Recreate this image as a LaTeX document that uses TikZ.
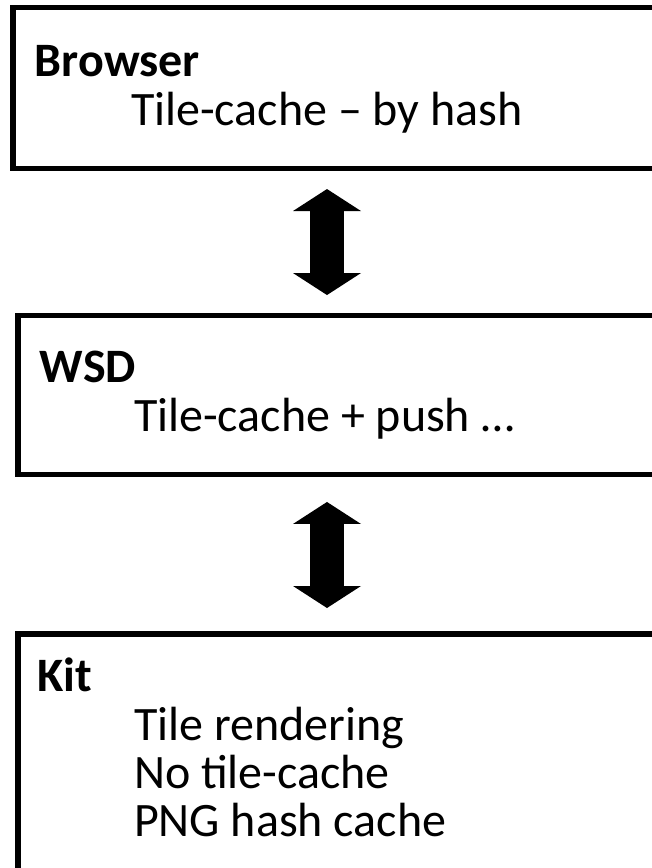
\documentclass[tikz,border=0pt]{standalone}
\usepackage{fontspec}
\setmainfont{Carlito}
\usetikzlibrary{arrows.meta}
\begin{document}
\begin{tikzpicture}[x=0.75pt,y=-0.75pt,
  box/.style={draw=black, line width=4.1pt, outer sep=0pt, inner sep=0pt, fill=white},
  lbl/.style={inner sep=0pt, outer sep=0pt, anchor=base west, font=\fontsize{36}{35.6}\selectfont},
  dblarrow/.style={line width=25.5pt, {Triangle[length=16.5pt,width=51pt,line width=0pt]}-{Triangle[length=16.5pt,width=51pt,line width=0pt]}}]
\useasboundingbox (0,0) rectangle (652,868);
\fill[white] (0,0) rectangle (652,868);
\node[box, anchor=north west, minimum width=515.25pt, minimum height=120.6pt] (b1) at (13,7.7) {};
\node[box, anchor=north west, minimum width=511.5pt, minimum height=119.4pt] (b2) at (17.8,315.3) {};
\node[box, anchor=north west, minimum width=511.5pt, minimum height=199.5pt] (b3) at (17.8,634) {};
\coordinate (ax) at (327,0);
\draw[dblarrow, shorten <=15.4pt, shorten >=15.2pt] (b1.south -| ax) -- (b2.north -| ax);
\draw[dblarrow, shorten <=20.6pt, shorten >=19.5pt] (b2.south -| ax) -- (b3.north -| ax);
\node[lbl] (h1) at (35,76) {\bfseries Browser};
\node[lbl] (s1) at (131,125) {Tile-cache – by hash};
\node[lbl] (h2) at (40,382.7) {\bfseries WSD};
\node[lbl] (s2) at (134,431) {Tile-cache + push …};
\node[lbl] (h3) at (37,691.7) {\bfseries Kit};
\node[lbl] (s3a) at (134,740.7) {Tile rendering};
\node[lbl] (s3b) at (134,788.3) {No tile-cache};
\node[lbl] (s3c) at (134,836) {PNG hash cache};
\end{tikzpicture}
\end{document}
